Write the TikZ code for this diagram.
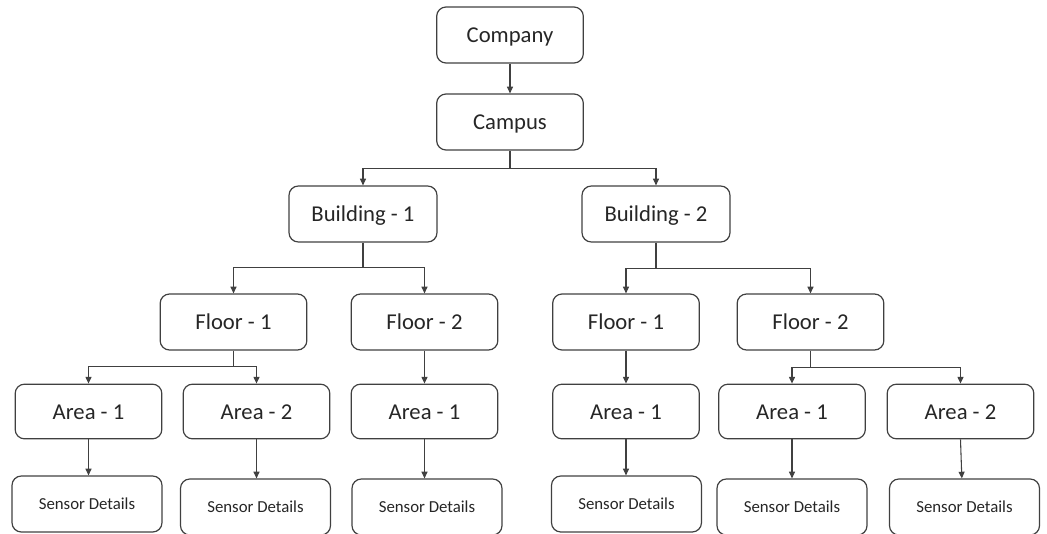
\documentclass[tikz,border=0pt]{standalone}
\usepackage{fontspec}
\setmainfont{Carlito}
\usetikzlibrary{arrows.meta,calc}
\definecolor{edge}{HTML}{404040}
\definecolor{txt}{HTML}{262626}
\tikzset{
  box/.style={draw=edge, line width=0.9pt, rounded corners=7pt, minimum width=110pt, minimum height=42pt, inner sep=0pt, text=txt, text height=11.4pt, text depth=0pt, font=\fontsize{17}{20}\selectfont},
  sbox/.style={box, minimum width=112.5pt, text height=8.8pt, font=\fontsize{12.6}{15}\selectfont},
  arr/.style={draw=edge, line width=0.8pt, -{Triangle[length=5pt,width=4.5pt]}},
  plain/.style={draw=edge, line width=0.8pt}
}
\begin{document}
\begin{tikzpicture}[x=0.75pt, y=-0.75pt]
\useasboundingbox (0,0) rectangle (1047,533);
\clip (0,0) rectangle (1047,533);
% level nodes
\node[box] (company) at (510,35) {Company};
\node[box] (campus) at (510,122) {Campus};
\node[box, minimum width=111pt] (b1) at (363,214) {Building - 1};
\node[box, minimum width=111pt] (b2) at (656,214) {Building - 2};
\node[box] (f1a) at (233.5,322) {Floor - 1};
\node[box] (f2a) at (424.5,322) {Floor - 2};
\node[box] (f1b) at (626,322) {Floor - 1};
\node[box] (f2b) at (810.5,322) {Floor - 2};
\node[box, minimum height=41pt] (a1a) at (88.5,411.5) {Area - 1};
\node[box, minimum height=41pt] (a2a) at (256.5,411.5) {Area - 2};
\node[box, minimum height=41pt] (a1c) at (424.5,411.5) {Area - 1};
\node[box, minimum height=41pt] (a1d) at (626,411.5) {Area - 1};
\node[box, minimum height=41pt] (a1e) at (792,411.5) {Area - 1};
\node[box, minimum height=41pt] (a2e) at (960.5,411.5) {Area - 2};
\node[sbox] (s1) at (87,504) {Sensor Details};
\node[sbox] (s2) at (255.5,507) {Sensor Details};
\node[sbox] (s3) at (427,507) {Sensor Details};
\node[sbox] (s4) at (626.5,504) {Sensor Details};
\node[sbox] (s5) at (792,507) {Sensor Details};
\node[sbox] (s6) at (964.5,507) {Sensor Details};
% connectors
\draw[arr] (company) -- (campus);
\coordinate (jc) at ($(campus.south)+(0,18)$);
\draw[plain] (campus.south) -- (jc);
\draw[arr] (jc) -| (b1.north);
\draw[arr] (jc) -| (b2.north);
\coordinate (jb1) at ($(b1.south)+(0,25)$);
\draw[plain] (b1.south) -- (jb1);
\draw[arr] (jb1) -| (f1a.north);
\draw[arr] (jb1) -| (f2a.north);
\coordinate (jb2) at ($(b2.south)+(0,26)$);
\draw[plain] (b2.south) -- (jb2);
\draw[arr] (jb2) -| (f1b.north);
\draw[arr] (jb2) -| (f2b.north);
\coordinate (jf1a) at ($(f1a.south)+(0,16)$);
\draw[plain] (f1a.south) -- (jf1a);
\draw[arr] (jf1a) -| (a1a.north);
\draw[arr] (jf1a) -| (a2a.north);
\draw[arr] (f2a) -- (a1c);
\draw[arr] (f1b) -- (a1d);
\coordinate (jf2b) at ($(f2b.south)+(0,17)$);
\draw[plain] (f2b.south) -- (jf2b);
\draw[arr] (jf2b) -| (a1e.north);
\draw[arr] (jf2b) -| (a2e.north);
\draw[arr] (a1a.south) -- (a1a.south |- s1.north);
\draw[arr] (a2a.south) -- (a2a.south |- s2.north);
\draw[arr] (a1c.south) -- (a1c.south |- s3.north);
\draw[arr] (a1d.south) -- (a1d.south |- s4.north);
\draw[arr] (a1e.south) -- (a1e.south |- s5.north);
\draw[arr] (a2e.south) -- ([xshift=-2pt]s6.north);
\end{tikzpicture}
\end{document}
